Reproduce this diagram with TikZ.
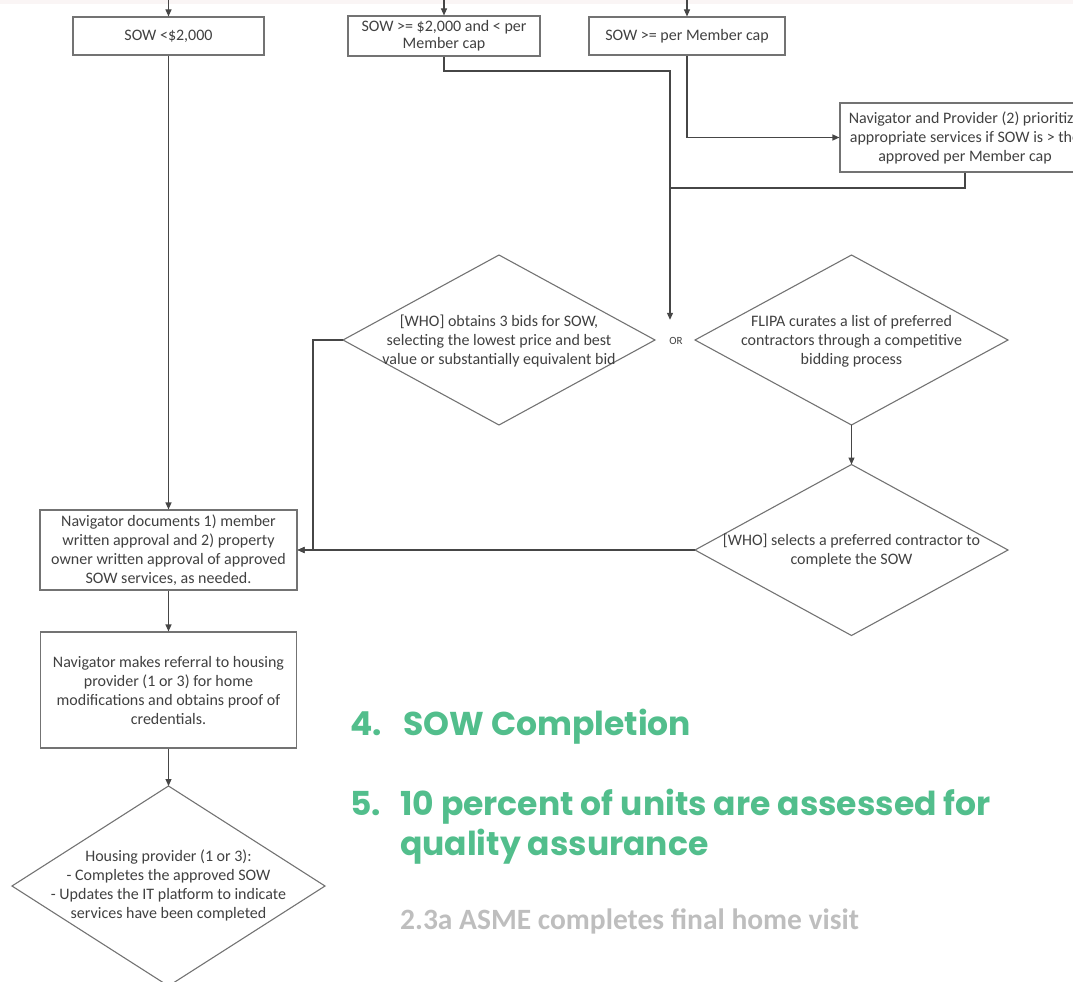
\documentclass[tikz,border=0pt]{standalone}
\usepackage{fontspec}
\setmainfont{Carlito}
\newfontfamily\popfont{Poppins}
\usetikzlibrary{arrows.meta,shapes.geometric}
\definecolor{grn}{RGB}{82,190,140}
\definecolor{txtc}{RGB}{64,64,64}
\definecolor{linec}{RGB}{70,70,70}
\definecolor{boxc}{RGB}{115,115,115}
\definecolor{graytxt}{RGB}{190,190,190}
\definecolor{topband}{RGB}{250,245,245}
\begin{document}
\begin{tikzpicture}[x=1pt,y=-1pt,
  every node/.style={text=txtc, font=\fontsize{16}{19}\selectfont},
  box/.style={draw=boxc, line width=1.1pt, align=center, inner sep=0pt},
  dia/.style={diamond, draw=boxc, line width=1.1pt, inner sep=0pt, outer sep=0pt},
  dtxt/.style={align=center, inner sep=0pt},
  conn/.style={draw=linec, line width=1.1pt},
  arr/.style={conn, -{Triangle[length=7pt,width=6pt]}},
  hd/.style={anchor=base west, inner sep=0pt, text=grn, font=\popfont\bfseries\fontsize{33}{40}\selectfont},
]
\useasboundingbox (0,0) rectangle (1073,982);
\clip (0,0) rectangle (1073,982);
\fill[topband] (0,0) rectangle (1073,4);

% boxes
\node[box, minimum width=191pt, minimum height=38pt] (a) at (168.5,36) {SOW <\$2,000};
\node[box, minimum width=192pt, minimum height=40pt, font=\fontsize{16}{17}\selectfont] (b) at (444,36) {SOW >= \$2,000 and < per\\Member cap};
\node[box, minimum width=196pt, minimum height=38pt] (c) at (687,36) {SOW >= per Member cap};
\node[box, minimum width=250pt, minimum height=69pt] (d) at (965,137.5) {Navigator and Provider (2) prioritize\\appropriate services if SOW is > the\\approved per Member cap};
\node[box, minimum width=257pt, minimum height=80pt] (h) at (168.5,550) {Navigator documents 1) member\\written approval and 2) property\\owner written approval of approved\\SOW services, as needed.};
\node[box, minimum width=256pt, minimum height=116pt] (i) at (168.5,690) {Navigator makes referral to housing\\provider (1 or 3) for home\\modifications and obtains proof of\\credentials.};

% diamonds
\node[dia, minimum width=312pt, minimum height=170pt] (e) at (499,340) {};
\node[dtxt] (et) at (499,341) {[WHO] obtains 3 bids for SOW,\\selecting the lowest price and best\\value or substantially equivalent bid};
\node[dia, minimum width=313pt, minimum height=170pt] (f) at (851.5,340) {};
\node[dtxt] (ft) at (851.5,341) {FLIPA curates a list of preferred\\contractors through a competitive\\bidding process};
\node[dia, minimum width=313pt, minimum height=171pt] (g) at (851.5,550) {};
\node[dtxt] (gt) at (851.5,551) {[WHO] selects a preferred contractor to\\complete the SOW};
\node[dia, minimum width=313pt, minimum height=200pt] (j) at (168.5,886) {};
\node[dtxt] (jt) at (168.5,885) {Housing provider (1 or 3):\\- Completes the approved SOW\\- Updates the IT platform to indicate\\services have been completed};

\node[inner sep=0pt, minimum height=42pt, font=\fontsize{11}{13}\selectfont] (or) at (676,341) {OR};

% connectors
\coordinate (ta) at (168.5,0);
\coordinate (tb) at (444,0);
\coordinate (tc) at (687,0);
\coordinate (bj) at (670,71);
\coordinate (jn) at (670,188);
\draw[arr] (ta) -- (a.north);
\draw[arr] (tb) -- (b.north);
\draw[arr] (tc) -- (c.north);
\draw[arr] (a.south) -- (h.north);
\draw[arr] (b.south) |- (bj) -- (bj |- or.north);
\draw[arr] (c.south) |- (d.west);
\draw[conn] (d.south) |- (jn);
\draw[arr] (e.west) -- ++(-30,0) |- (h.east);
\draw[arr] (g.west) -- (h.east);
\draw[arr] (f.south) -- (g.north);
\draw[arr] (h.south) -- (i.north);
\draw[arr] (i.south) -- (j.north);

% headings
\node[hd] (n4) at (350,735) {4.};
\node[hd] (t4) at (403,735) {SOW Completion};
\node[hd] (n5) at (350,815) {5.};
\node[hd] (t5a) at (400,815) {10 percent of units are assessed for};
\node[hd] (t5b) at (400,855) {quality assurance};
\node[anchor=base west, inner sep=0pt, text=graytxt, font=\bfseries\fontsize{29.5}{32}\selectfont] (sub) at (400,929) {2.3a ASME completes final home visit};
\end{tikzpicture}
\end{document}
